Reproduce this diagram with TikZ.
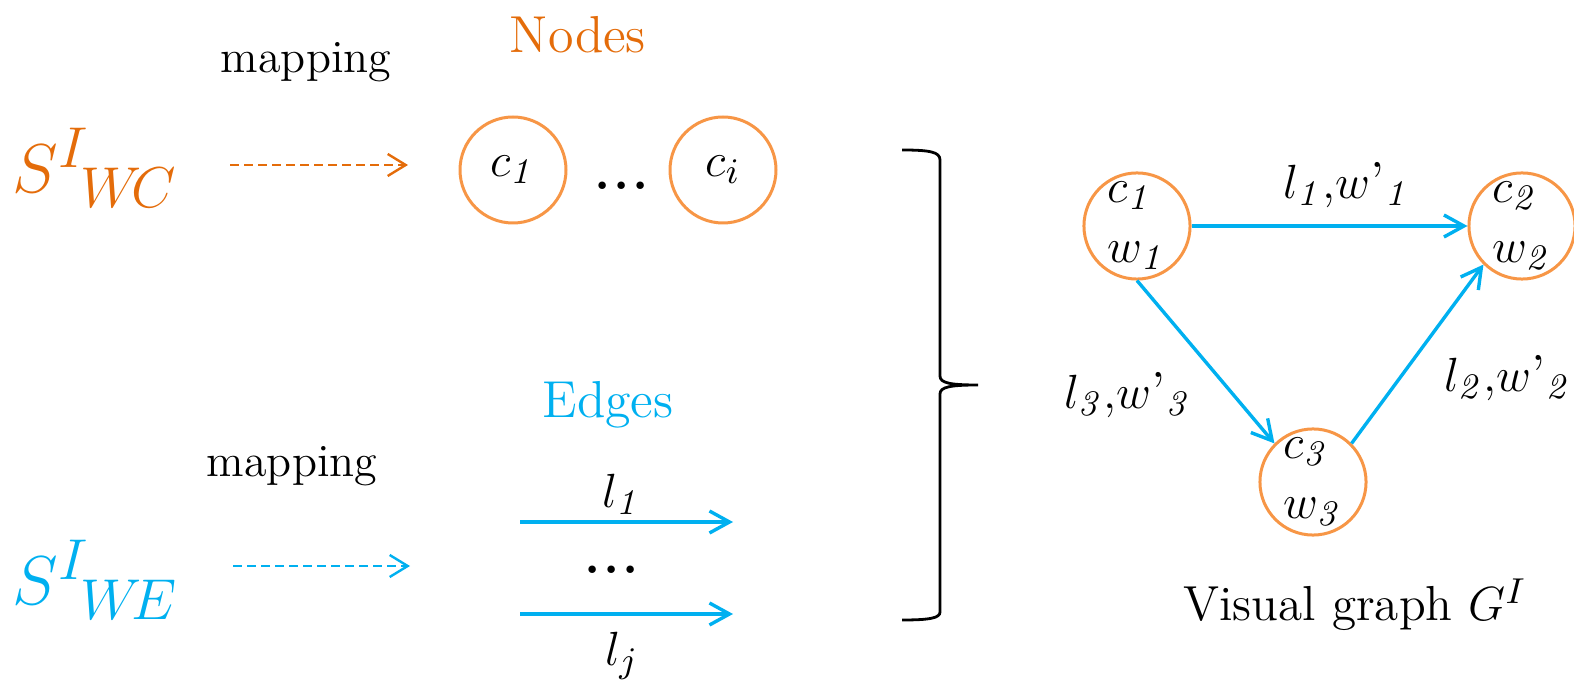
\documentclass[tikz,border=0pt]{standalone}
\usepackage{amsmath}
\usepackage{tikz}
\usetikzlibrary{arrows.meta}
\definecolor{ppOrange}{HTML}{E46C0A}
\definecolor{ppCircle}{HTML}{F79646}
\definecolor{ppBlue}{HTML}{00B0F0}

\begin{document}
\begin{tikzpicture}[x=0.25pt, y=-0.25pt,
    txt/.style={font=\fontsize{13}{15}\selectfont, inner sep=0pt},
    bigtxt/.style={font=\fontsize{19}{23}\selectfont, inner sep=0pt, anchor=west},
    cnode/.style={circle, draw=ppCircle, line width=0.75pt, minimum size=26.5pt,
      inner sep=0pt, align=left, font=\fontsize{13}{15}\selectfont},
    dasharrow/.style={dash pattern=on 2.2pt off 1.3pt, line width=0.6pt,
      -{Straight Barb[length=4.5pt,width=5.5pt]}},
    edgearrow/.style={ppBlue, line width=0.85pt,
      -{Straight Barb[length=5pt,width=5.5pt]}}
    ]

    \useasboundingbox (0,0) rectangle (1574,694);

    % left: sets and mappings
    \node[bigtxt, text=ppOrange] (swc) at (12,168) {$S^{I}{}_{\!W\!C}$};
    \node[bigtxt, text=ppBlue] (swe) at (12,580) {$S^{I}{}_{\!W\!E}$};

    \node[txt, font=\fontsize{11.5}{14}\selectfont] (map1) at (306,62) {mapping};
    \node[txt, font=\fontsize{11.5}{14}\selectfont] (map2) at (292,466) {mapping};

    \coordinate (wcfrom) at (230,165);
    \coordinate (wcto) at (408,165);
    \coordinate (wefrom) at (233,566);
    \coordinate (weto) at (410,566);
    \draw[dasharrow, ppOrange] (wcfrom) -- (wcto);
    \draw[dasharrow, ppBlue] (wefrom) -- (weto);

    % nodes
    \node[txt, text=ppOrange] (nodes) at (578,35) {Nodes};
    \node[cnode] (n1) at (513,170) {$c_{\mathit{1}}$};
    \node[cnode] (ni) at (723,170) {$c_{i}$};
    \node[txt] (ndots) at (622,186) {\bfseries.\kern0.7pt.\kern0.7pt.};

    % edges
    \node[txt, text=ppBlue] (edges) at (608,405) {Edges};
    \coordinate (e1from) at (520,522);
    \coordinate (e1to) at (733,522);
    \coordinate (ejfrom) at (520,614);
    \coordinate (ejto) at (733,614);
    \draw[edgearrow] (e1from) -- (e1to);
    \draw[edgearrow] (ejfrom) -- (ejto);
    \node[txt] (l1) at (622,494) {$l_{\mathit{1}}$};
    \node[txt] (edots) at (612,570) {\bfseries.\kern0.7pt.\kern0.7pt.};
    \node[txt] (lj) at (622,656) {$l_{j}$};

    % brace
    \draw[line width=0.7pt] (902,150) .. controls (930,150) and (940,152) .. (940,160)
      -- (940,376) .. controls (940,383) and (950,385) .. (978,385)
      .. controls (950,385) and (940,387) .. (940,394)
      -- (940,612) .. controls (940,618) and (930,620) .. (902,620);

    % visual graph
    \node[cnode] (g1) at (1137,226) {$c_{\mathit{1}}$\\$w_{\mathit{1}}$};
    \node[cnode] (g2) at (1522,226) {$c_{\mathit{2}}$\\$w_{\mathit{2}}$};
    \node[cnode] (g3) at (1313,482) {$c_{\mathit{3}}$\\$w_{\mathit{3}}$};

    \draw[edgearrow] (g1) -- (g2);
    \draw[edgearrow] (g1.south) -- (g3.135);
    \draw[edgearrow] (g3.45) -- (g2.225);

    \node[txt] (lw1) at (1347,185) {$l_{\mathit{1}}{,}w\mbox{\textquoteright}_{\mathit{1}}$};
    \node[txt] (lw3) at (1128,395) {$l_{\mathit{3}}{,}w\mbox{\textquoteright}_{\mathit{3}}$};
    \node[txt] (lw2) at (1508,378) {$l_{\mathit{2}}{,}w\mbox{\textquoteright}_{\mathit{2}}$};

    \node[txt, font=\fontsize{12.3}{15}\selectfont] (vg) at (1355,605) {Visual graph $G^{I}$};

\end{tikzpicture}
\end{document}
